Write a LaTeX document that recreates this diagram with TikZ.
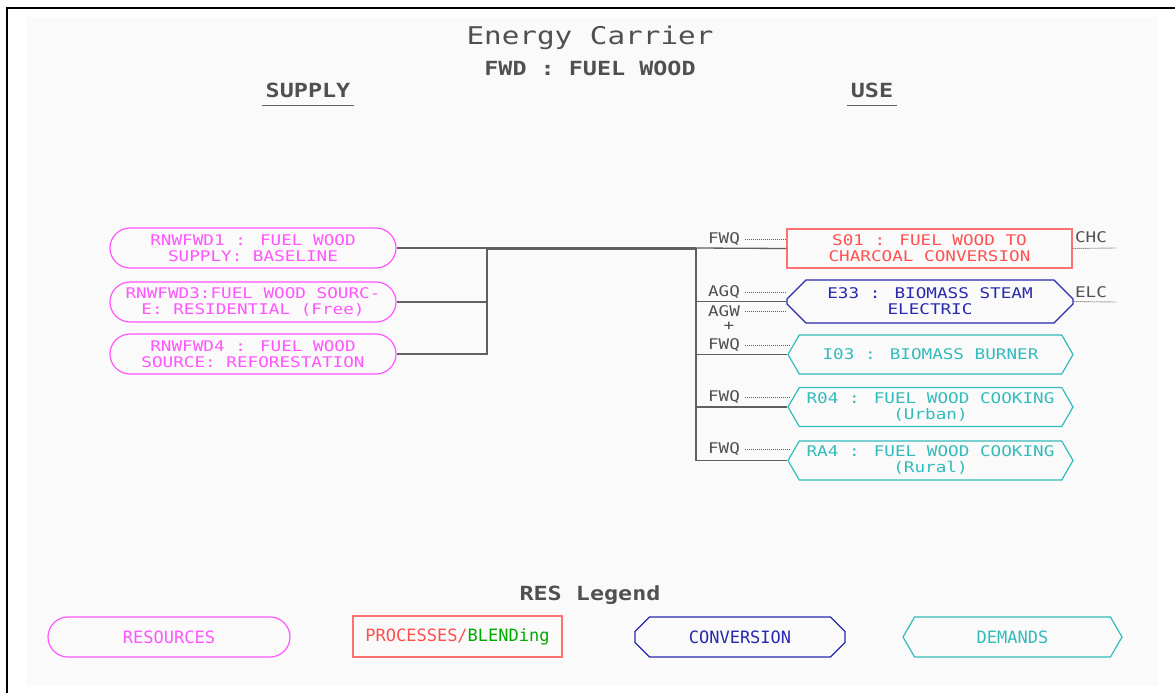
\documentclass[tikz,border=0pt]{standalone}
\usepackage{fontspec}
\usepackage{xcolor}
\usetikzlibrary{positioning,shapes.misc,shapes.symbols}
\newfontfamily\pixfont[FakeStretch=1.2]{DejaVu Sans Mono}
\newfontfamily\legfont{DejaVu Sans Mono}
\newcommand\nodefont{\pixfont\fontsize{14.7}{16}\selectfont}
\definecolor{resmag}{RGB}{255,85,255}
\definecolor{prcline}{RGB}{255,112,112}
\definecolor{prctext}{RGB}{255,80,80}
\definecolor{cnvblue}{RGB}{40,40,176}
\definecolor{dmdteal}{RGB}{51,187,187}
\definecolor{blndgreen}{RGB}{0,170,0}
\definecolor{wiregrey}{RGB}{96,96,96}
\definecolor{txtgrey}{RGB}{80,80,80}
\definecolor{panel}{RGB}{250,250,250}

\begin{document}
\begin{tikzpicture}[x=1pt, y=-1pt,
  base/.style={align=center, inner sep=0pt, line width=1.2pt, font=\nodefont},
  resbox/.style={base, draw=resmag, text=resmag, rounded rectangle,
                 minimum width=286pt, minimum height=40pt},
  prcbox/.style={base, draw=prcline, text=prctext, rectangle,
                 minimum width=285pt, minimum height=39pt},
  cnvbox/.style={base, draw=cnvblue, text=cnvblue, chamfered rectangle,
                 chamfered rectangle xsep=11pt, chamfered rectangle ysep=8pt,
                 minimum width=286pt, minimum height=39pt},
  dmdbox/.style={base, draw=dmdteal, text=dmdteal, signal, signal to=west and east,
                 signal pointer angle=120, minimum width=285pt, minimum height=39pt},
  legend/.style={font=\legfont\fontsize{17}{20}\selectfont, minimum height=40pt},
  wire/.style={draw=wiregrey, line width=1.3pt},
  trunk/.style={wire, line width=3pt},
  stub/.style={draw=wiregrey, line width=0.9pt, dash pattern=on 1pt off 1pt},
  lbl/.style={text=txtgrey, font=\nodefont, inner sep=0pt},
  head/.style={text=txtgrey, font=\pixfont\bfseries\fontsize{19.5}{22}\selectfont, inner sep=0pt}
]
  \useasboundingbox (0,0) rectangle (1175,693);
  \fill[white] (0,0) rectangle (1175,693);
  \fill[panel] (27,17) rectangle (1158,686);
  \draw[line width=2pt] (7,693) -- (7,8) -- (1175,8);

  % Headings
  \node[lbl, font=\pixfont\fontsize{24.4}{28}\selectfont] (title) at (590,38) {Energy Carrier};
  \node[head] (carrier) at (590,68) {FWD : FUEL WOOD};
  \node[head] (supply) at (308,90) {SUPPLY};
  \node[head] (use) at (872,90) {USE};
  \draw[wire] ([xshift=-4pt,yshift=-8pt]supply.south west) -- ([xshift=4pt,yshift=-8pt]supply.south east);
  \draw[wire] ([xshift=-4pt,yshift=-8pt]use.south west) -- ([xshift=4pt,yshift=-8pt]use.south east);

  % Supply side
  \node[resbox] (fwd1) at (253,248) {RNWFWD1 : FUEL WOOD\\SUPPLY: BASELINE};
  \node[resbox] (fwd3) at (253,302) {RNWFWD3:FUEL WOOD SOURC-\\E: RESIDENTIAL (Free)};
  \node[resbox] (fwd4) at (253,354) {RNWFWD4 : FUEL WOOD\\SOURCE: REFORESTATION};

  % Use side
  \node[prcbox] (s01) at (929.5,248.5) {S01 : FUEL WOOD TO\\CHARCOAL CONVERSION};
  \node[cnvbox] (e33) at (930,301.5) {E33 : BIOMASS STEAM\\ELECTRIC};
  \node[dmdbox] (i03) at (930.5,354.5) {I03 : BIOMASS BURNER};
  \node[dmdbox] (r04) at (930.5,407) {R04 : FUEL WOOD COOKING\\(Urban)};
  \node[dmdbox] (ra4) at (930.5,460.5) {RA4 : FUEL WOOD COOKING\\(Rural)};

  % Joints
  \coordinate (jl) at (487,248);
  \coordinate (jr) at (696,248);
  \draw[wire] (fwd1.east) -- (jl);
  \draw[wire] (fwd3.east) -| (jl);
  \draw[wire] (fwd4.east) -| (jl);
  \draw[trunk] (jl) -- (jr);
  \draw[wire] (jr) -- (s01.west);
  \draw[wire] (jr) |- (e33.west);
  \draw[wire] (jr) |- (i03.west);
  \draw[wire] (jr) |- (r04.west);
  \draw[wire] (jr) |- (ra4.west);

  % Commodity labels
  \node[lbl] (in1) at (724,239) {FWQ};
  \node[lbl] (in2) at (724,292) {AGQ};
  \node[lbl] (in3) at (724,311) {AGW};
  \node[lbl] (plus) at (729,326) {+};
  \node[lbl] (in4) at (724,345) {FWQ};
  \node[lbl] (in5) at (724,397) {FWQ};
  \node[lbl] (in6) at (724,449) {FWQ};
  \draw[stub] ([xshift=5pt]in1.east) -- (in1.east -| s01.west);
  \draw[stub] ([xshift=5pt]in2.east) -- (in2.east -| e33.west);
  \draw[stub] ([xshift=5pt]in3.east) -- (in3.east -| e33.west);
  \draw[stub] ([xshift=5pt]in4.east) -- ([xshift=3pt]in4.east -| i03.west);
  \draw[stub] ([xshift=5pt]in5.east) -- ([xshift=3pt]in5.east -| r04.west);
  \draw[stub] ([xshift=5pt]in6.east) -- ([xshift=3pt]in6.east -| ra4.west);

  \node[lbl] (out1) at (1091,237.5) {CHC};
  \node[lbl] (out2) at (1091,292) {ELC};
  \coordinate (end1) at (1116,248);
  \coordinate (end2) at (1116,302);
  \draw[stub] (s01.east) -- (end1);
  \draw[stub] (e33.east) -- (end2);

  % Legend
  \node[head] (legtitle) at (590,595) {RES Legend};
  \node[resbox, legend, minimum width=242pt] (legres) at (169,637) {RESOURCES};
  \node[prcbox, legend, minimum width=209pt, minimum height=41pt] (legprc) at (457.5,636.5)
    {{\color{prctext}PROCESSES/}{\color{blndgreen}BLENDing}};
  \node[cnvbox, legend, minimum width=210pt] (legcnv) at (740,637) {CONVERSION};
  \node[dmdbox, legend, minimum width=219pt] (legdmd) at (1012.5,637) {DEMANDS};
\end{tikzpicture}
\end{document}
